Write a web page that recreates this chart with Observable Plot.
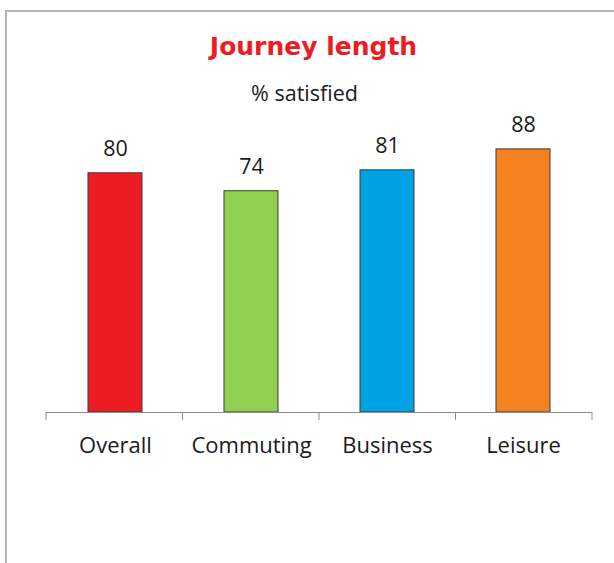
<!DOCTYPE html>
<html>
<head>
<meta charset="utf-8">
<script src="https://cdn.jsdelivr.net/npm/d3@7"></script>
<script src="https://cdn.jsdelivr.net/npm/@observablehq/plot@0.6"></script>
<style>
  html, body { margin: 0; padding: 0; background: #fff; width: 614px; height: 563px; overflow: hidden; }
  #frame { position: absolute; left: 5px; top: 10px; width: 700px; height: 700px;
           border-left: 2px solid #b5b5b5; border-top: 2px solid #b5b5b5; }
  #title { position: absolute; left: 0; top: 32px; width: 627px; text-align: center;
           font: bold 25px "DejaVu Sans", Verdana, sans-serif; line-height: 30px; color: #ec1c24; }
  #subtitle { position: absolute; left: 0; top: 80px; width: 609px; text-align: center;
           font: 21.5px "Open Sans", sans-serif; line-height: 26px; color: #1a1a1a; }
  #chart { position: absolute; left: 0; top: 0; }
</style>
</head>
<body>
<div id="frame"></div>
<div id="title">Journey length</div>
<div id="subtitle">% satisfied</div>
<div id="chart"></div>
<script>
const categories = ["Overall", "Commuting", "Business", "Leisure"];
const values = [80, 74, 81, 88];
const colors = ["#ed1c24", "#92d050", "#00a2e3", "#f58220"];

const data = categories.map((c, i) => ({category: c, value: values[i]}));

// tick marks at category boundaries (Excel-style), derived from the frame dimensions
const boundaryTicks = (index, scales, channels, dimensions) => {
  const {width, marginLeft, marginRight, height, marginBottom} = dimensions;
  const n = categories.length;
  const step = (width - marginLeft - marginRight) / n;
  const y0 = height - marginBottom;
  const g = d3.create("svg:g").attr("stroke", "#8c8c8c").attr("stroke-width", 1);
  for (let k = 0; k <= n; k++) {
    const x = marginLeft + k * step;
    g.append("line").attr("x1", x).attr("x2", x).attr("y1", y0).attr("y2", y0 + 8);
  }
  return g.node();
};

const chart = Plot.plot({
  width: 614,
  height: 563,
  marginTop: 113,
  marginBottom: 151,
  marginLeft: 46,
  marginRight: 22,
  style: {fontFamily: "'Open Sans', sans-serif", overflow: "visible", background: "transparent"},
  x: {domain: categories, paddingInner: 0.6, paddingOuter: 0.3, axis: null},
  y: {domain: [0, 100], axis: null},
  color: {domain: categories, range: colors},
  marks: [
    Plot.barY(data, {x: "category", y: "value", fill: "category", stroke: "#3a3a3a", strokeWidth: 1}),
    Plot.ruleY([0], {stroke: "#8c8c8c", strokeWidth: 1}),
    boundaryTicks,
    Plot.text(data, {x: "category", y: "value", text: d => String(d.value), dy: -24,
      lineAnchor: "middle", fontSize: 21.5, fill: "#1a1a1a"}),
    Plot.text(categories, {x: d => d, frameAnchor: "bottom", dy: 33, lineAnchor: "middle",
      fontSize: 22, fill: "#1a1a1a"})
  ]
});
document.getElementById("chart").appendChild(chart);
</script>
</body>
</html>
